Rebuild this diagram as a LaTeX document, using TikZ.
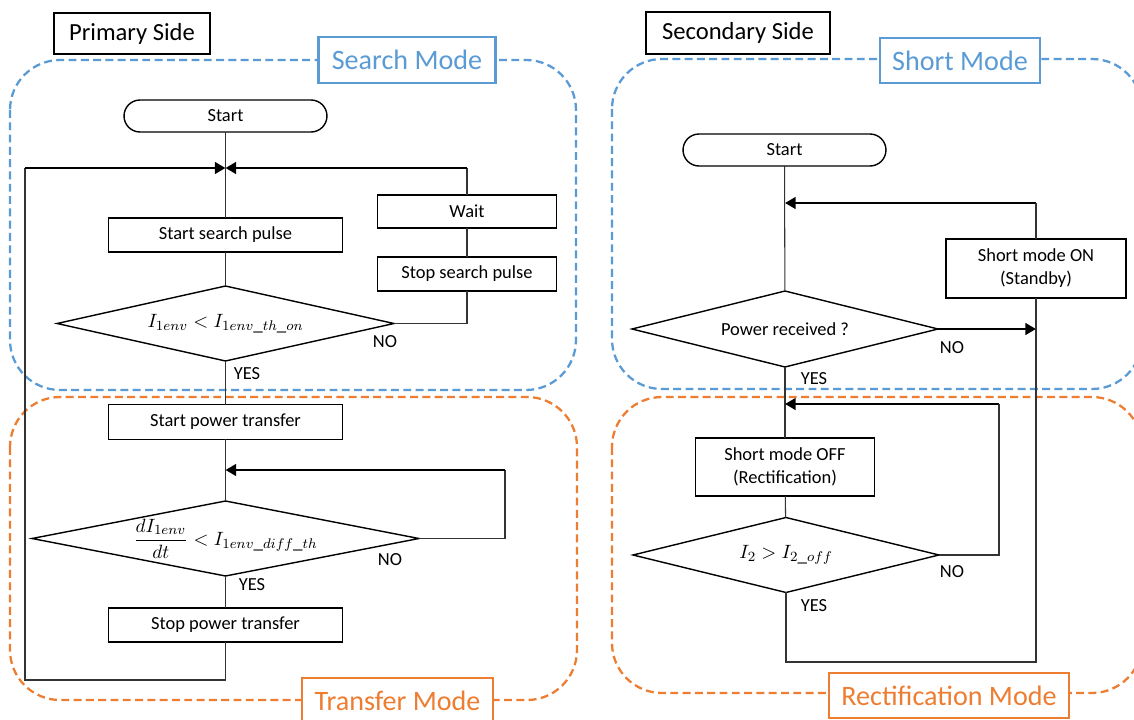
\documentclass[tikz,border=0pt]{standalone}
\usepackage{fontspec}
\setmainfont{Carlito}
\usetikzlibrary{shapes.geometric,arrows.meta}
\definecolor{mblue}{RGB}{91,155,213}
\definecolor{morange}{RGB}{237,125,49}
\newcommand\mathsz{\fontsize{10.8}{13}\selectfont}
\tikzset{
  proc/.style={draw, rectangle, line width=0.8pt, inner sep=0pt, outer sep=0pt, align=center,
    font=\fontsize{10.5}{13}\selectfont},
  term/.style={proc, rounded corners=0.32cm},
  dec/.style={draw, diamond, line width=0.8pt, inner sep=0pt, outer sep=0pt,
    font=\fontsize{10.5}{13}\selectfont},
  flow/.style={line width=0.6pt, draw=black!80},
  back/.style={line width=1.7pt, -{Triangle[length=6pt,width=6.5pt]}},
  modebox/.style={dashed, dash pattern=on 4.5pt off 2.5pt, line width=1.3pt, rounded corners=1cm},
  sidebox/.style={draw, line width=1.3pt, inner sep=0pt, font=\fontsize{14}{16}\selectfont},
  modelabel/.style={draw, fill=white, line width=1.3pt, inner sep=0pt, font=\fontsize{16}{18}\selectfont},
  yn/.style={font=\fontsize{10.5}{12}\selectfont, inner sep=0pt}
}
\begin{document}
\begin{tikzpicture}[x=0.02cm, y=-0.02cm]
\path[use as bounding box] (0,0) rectangle (1134,720);
\fill[white] (0,0) rectangle (1134,720);
\clip (0,0) rectangle (1134,720);

% mode regions
\draw[modebox, mblue] (10,60) rectangle (576,390);
\draw[modebox, morange] (10,397) rectangle (577,700);
\draw[modebox, mblue] (612,59) rectangle (1142,389);
\draw[modebox, morange] (612,397) rectangle (1142,693);

% labels
\node[sidebox, minimum width=3.12cm, minimum height=0.82cm] (prim) at (132,33.5) {Primary Side};
\node[sidebox, minimum width=3.68cm, minimum height=0.84cm] (sec) at (738,33) {Secondary Side};
\node[modelabel, draw=mblue, text=mblue, minimum width=3.54cm, minimum height=0.92cm] (search) at (407,60) {Search Mode};
\node[modelabel, draw=mblue, text=mblue, minimum width=3.2cm, minimum height=0.9cm] (short) at (960,60.5) {Short Mode};
\node[modelabel, draw=morange, text=morange, minimum width=3.82cm, minimum height=0.92cm] (transfer) at (397.5,701) {Transfer Mode};
\node[modelabel, draw=morange, text=morange, minimum width=4.8cm, minimum height=0.9cm] (rectm) at (949,695.5) {Rectification Mode};

% primary side nodes
\node[term, minimum width=4.06cm, minimum height=0.64cm] (startL) at (225.5,116) {Start};
\node[proc, minimum width=4.68cm, minimum height=0.68cm] (ssp) at (225.5,235) {Start search pulse};
\node[dec, aspect=4.5, minimum width=6.74cm, minimum height=1.5cm] (d1) at (225.5,323.5)
  {\mathsz $I_{1env} < I_{1env\_th\_on}$};
\node[proc, minimum width=3.58cm, minimum height=0.66cm] (wait) at (467,211.5) {Wait};
\node[proc, minimum width=3.58cm, minimum height=0.68cm] (sstop) at (467,274) {Stop search pulse};
\node[proc, minimum width=4.68cm, minimum height=0.70cm] (spt) at (225.5,422) {Start power transfer};
\node[dec, aspect=5.16, minimum width=7.74cm, minimum height=1.5cm,
  label={[inner sep=0pt]center:{\mathsz $\displaystyle\frac{dI_{1env}}{dt} < I_{1env\_diff\_th}$}}]
  (d2) at (225.5,538.5) {};
\node[proc, minimum width=4.68cm, minimum height=0.68cm] (stpt) at (225.5,625) {Stop power transfer};

\node[yn] (no1) at (385,342) {NO};
\node[yn] (yes1) at (247,374) {YES};
\node[yn] (no2) at (390,560) {NO};
\node[yn] (yes2) at (252,585) {YES};

\coordinate (jtop) at (225.5,168);
\coordinate (tl) at (25,168);
\coordinate (bl) at (25,680);
\coordinate (j2) at (225.5,470);
\coordinate (r2) at (505,470);

\draw[flow] (startL) -- (ssp);
\draw[flow] (ssp) -- (d1);
\draw[flow] (d1) -- (spt);
\draw[flow] (spt) -- (d2);
\draw[flow] (d2) -- (stpt);
\draw[flow] (stpt.south) |- (bl) -- (tl);
\draw[back] (tl) -- (jtop);
\draw[flow] (d1.east) -| (sstop.south);
\draw[flow] (sstop) -- (wait);
\draw[flow] (wait.north) -- (wait.north |- jtop) coordinate (tr);
\draw[back] (tr) -- (jtop);
\draw[flow] (d2.east) -| (r2);
\draw[back] (r2) -- (j2);

% secondary side nodes
\node[term, minimum width=4.06cm, minimum height=0.64cm] (startR) at (784.5,150) {Start};
\node[proc, minimum width=3.6cm, minimum height=1.18cm] (son) at (1036,268.5) {Short mode ON\\(Standby)};
\node[dec, aspect=4.0, minimum width=6.12cm, minimum height=1.52cm] (d3) at (785,329) {Power received ?};
\node[proc, minimum width=3.58cm, minimum height=1.16cm] (soff) at (785,467) {Short mode OFF\\(Rectification)};
\node[dec, aspect=4.1, minimum width=6.12cm, minimum height=1.5cm] (d4) at (786,555)
  {\mathsz $I_2 > I_{2\_off}$};

\node[yn] (no3) at (952,348) {NO};
\node[yn] (yes3) at (814,379) {YES};
\node[yn] (no4) at (952,572) {NO};
\node[yn] (yes4) at (814,606) {YES};

\coordinate (j3) at (785,203);
\coordinate (r3) at (1036,203);
\coordinate (j4) at (785,404);
\coordinate (r4) at (999,404);
\coordinate (br) at (1036,662);

\draw[flow] (startR) -- (d3);
\draw[back] (r3) -- (j3);
\draw[flow] (r3) -- (son.north);
\draw[back] (d3.east) -- (d3.east -| son);
\draw[flow] (d3) -- (soff);
\draw[back] (r4) -- (j4);
\draw[flow] (soff) -- (d4);
\draw[flow] (d4.east) -| (r4);
\draw[flow] (d4.south) |- (br) -- (son.south);
\end{tikzpicture}
\end{document}
